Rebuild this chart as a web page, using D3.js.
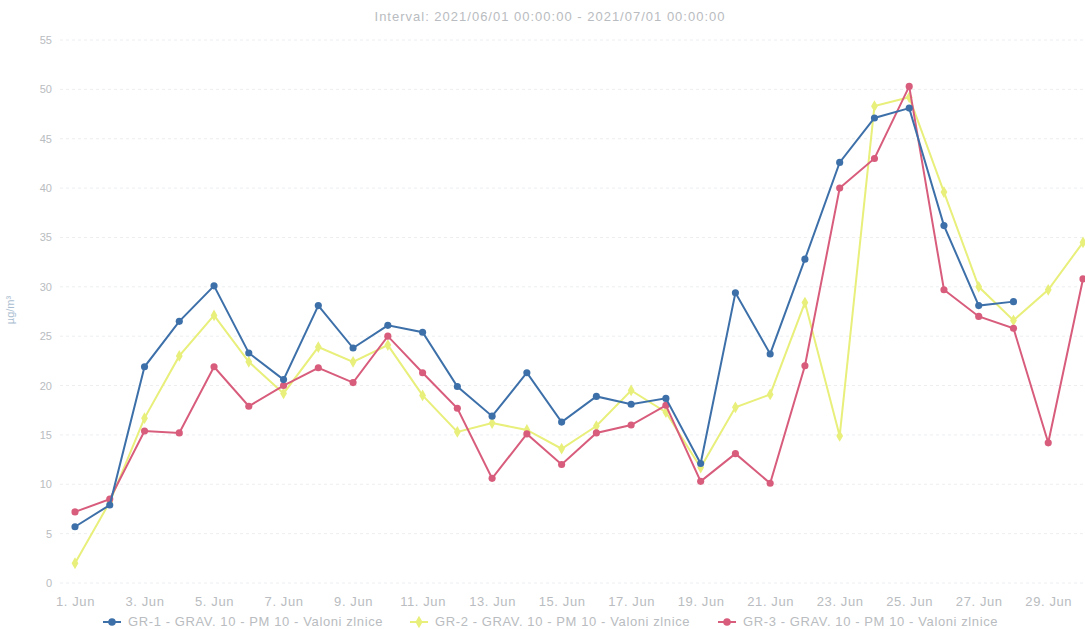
<!DOCTYPE html>
<html><head><meta charset="utf-8">
<script src="https://cdn.jsdelivr.net/npm/d3@7"></script>
<style>body{margin:0;background:#fff}svg{display:block}</style>
</head><body><svg id="c" width="1085" height="629"></svg>
<script>
const days = d3.range(1, 31);
const gr1 = [5.7,7.9,21.9,26.5,30.1,23.3,20.6,28.1,23.8,26.1,25.4,19.9,16.9,21.3,16.3,18.9,18.1,18.7,12.1,29.4,23.2,32.8,42.6,47.1,48.1,36.2,28.1,28.5,null,null];
const gr2 = [2.0,8.2,16.7,23.0,27.1,22.4,19.2,23.9,22.4,24.1,19.0,15.3,16.2,15.5,13.6,15.9,19.5,17.3,11.7,17.8,19.1,28.4,14.9,48.3,49.2,39.6,30.0,26.6,29.7,34.5];
const gr3 = [7.2,8.5,15.4,15.2,21.9,17.9,20.0,21.8,20.3,25.0,21.3,17.7,10.6,15.1,12.0,15.2,16.0,18.0,10.3,13.1,10.1,22.0,40.0,43.0,50.3,29.7,27.0,25.8,14.2,30.8];
const seriesNames = ["GR-1 - GRAV. 10 - PM 10 - Valoni zlnice","GR-2 - GRAV. 10 - PM 10 - Valoni zlnice","GR-3 - GRAV. 10 - PM 10 - Valoni zlnice"];
const yTicks = [0,5,10,15,20,25,30,35,40,45,50,55];
const titleText = "Interval: 2021/06/01 00:00:00 - 2021/07/01 00:00:00";
const yTitle = "µg/m³";

const colors = ["#3d70a9","#e8ef7a","#d85c7c"];
const symbols = [d3.symbolCircle, d3.symbolDiamond, d3.symbolCircle];
const svg = d3.select("#c");
const dates = days.map(d => new Date(2021, 5, d));
const x = d3.scaleTime().domain([dates[0], dates[29]]).range([75, 1083]);
const y = d3.scaleLinear().domain([0, 55]).range([583, 40]);
const txt = "#b9bcc0";
const ff = "Liberation Sans, Arial, sans-serif";

svg.append("text").attr("x", 550).attr("y", 21).attr("text-anchor","middle")
  .attr("font-family",ff).attr("font-size",13).attr("letter-spacing",1).attr("fill",txt).text(titleText);

// grid
svg.append("g").selectAll("line").data(yTicks).join("line")
  .attr("x1",60).attr("x2",1085).attr("y1",d=>y(d)).attr("y2",d=>y(d))
  .attr("stroke","#eceef0").attr("stroke-width",1).attr("stroke-dasharray","3,3");

// y axis labels
const ya = svg.append("g").attr("transform","translate(52,0)")
  .call(d3.axisLeft(y).tickValues(yTicks).tickSize(0).tickPadding(0));
ya.select(".domain").remove();
ya.selectAll("text").attr("fill",txt).attr("font-size",11).attr("font-family",ff);

svg.append("text").attr("transform","translate(14,310) rotate(-90)").attr("text-anchor","middle")
  .attr("font-family",ff).attr("font-size",11).attr("fill","#a9bdd0").text(yTitle);

// x axis
const xa = svg.append("g").attr("transform","translate(0,585)")
  .call(d3.axisBottom(x).ticks(d3.timeDay.every(2)).tickFormat(d3.timeFormat("%-d. %b")).tickSize(0).tickPadding(12));
xa.select(".domain").remove();
xa.selectAll("text").attr("fill",txt).attr("font-size",13).attr("letter-spacing",0.6).attr("font-family",ff);

// series
const all = [gr1, gr2, gr3];
const order = [1, 2, 0];
const line = d3.line().defined(d=>d.v!=null).x(d=>x(d.d)).y(d=>y(d.v));
order.forEach(i => {
  const data = all[i].map((v,k)=>({d:dates[k], v}));
  const g = svg.append("g");
  g.append("path").datum(data).attr("d", line).attr("fill","none")
    .attr("stroke", colors[i]).attr("stroke-width", 2);
  g.selectAll("path.m").data(data.filter(d=>d.v!=null)).join("path").attr("class","m")
    .attr("transform", d=>`translate(${x(d.d)},${y(d.v)})`)
    .attr("d", d3.symbol().type(symbols[i]).size(40)).attr("fill", colors[i]);
});

// legend
const lx = [103, 410, 718];
seriesNames.forEach((n,i)=>{
  const g = svg.append("g").attr("transform",`translate(${lx[i]},622)`);
  g.append("line").attr("x1",0).attr("x2",18).attr("y1",0).attr("y2",0).attr("stroke",colors[i]).attr("stroke-width",2);
  g.append("path").attr("transform","translate(9,0)").attr("d", d3.symbol().type(symbols[i]).size(45)).attr("fill",colors[i]);
  g.append("text").attr("x",25).attr("y",4).attr("font-size",13).attr("letter-spacing",0.6)
    .attr("font-family",ff).attr("fill",txt).text(n);
});
</script></body></html>
